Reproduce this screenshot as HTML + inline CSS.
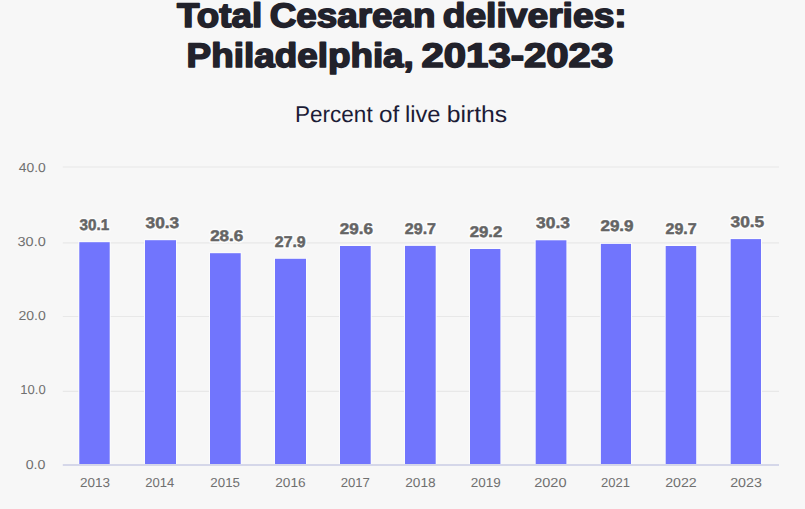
<!DOCTYPE html>
<html><head><meta charset="utf-8"><style>
html,body{margin:0;padding:0;background:#f7f7f7;}
body{width:805px;height:509px;overflow:hidden;position:relative;font-family:"Liberation Sans",sans-serif;}
svg{position:absolute;left:0;top:0;}
text{font-family:"Liberation Sans",sans-serif;text-rendering:geometricPrecision;}
.tt{font-size:34px;font-weight:bold;fill:#22222b;stroke:#22222b;stroke-width:1.6px;stroke-linejoin:round;}
.st{font-size:23px;text-rendering:geometricPrecision;fill:#1c1c36;}
.yl{font-size:13px;fill:#707070;}
.xl{font-size:13px;fill:#707070;}
.dh{font-size:15.5px;font-weight:bold;fill:#fff;stroke:#fcfcfc;stroke-width:3.5px;stroke-linejoin:round;}
.dl{font-size:15.5px;font-weight:bold;fill:#646464;stroke:#646464;stroke-width:0.5px;stroke-linejoin:round;}
</style></head><body>
<svg width="805" height="509" viewBox="0 0 805 509">
<text class="tt" x="177.10" y="26.9" textLength="85.02" lengthAdjust="spacingAndGlyphs">Total</text>
<text class="tt" x="269.72" y="26.9" textLength="165.77" lengthAdjust="spacingAndGlyphs">Cesarean</text>
<text class="tt" x="442.71" y="26.9" textLength="184.01" lengthAdjust="spacingAndGlyphs">deliveries:</text>
<text class="tt" x="186.63" y="67.0" textLength="227.23" lengthAdjust="spacingAndGlyphs">Philadelphia,</text>
<text class="tt" x="421.52" y="67.0" textLength="191.70" lengthAdjust="spacingAndGlyphs">2013-2023</text>
<text class="st" x="295.04" y="122" textLength="77.62" lengthAdjust="spacingAndGlyphs">Percent</text>
<text class="st" x="378.94" y="122" textLength="20.25" lengthAdjust="spacingAndGlyphs">of</text>
<text class="st" x="404.94" y="122" textLength="35.59" lengthAdjust="spacingAndGlyphs">live</text>
<text class="st" x="446.75" y="122" textLength="60.50" lengthAdjust="spacingAndGlyphs">births</text>
<line x1="62.8" x2="779" y1="167.0" y2="167.0" stroke="#e8e8e8" stroke-width="1.2"/>
<line x1="62.8" x2="779" y1="242.9" y2="242.9" stroke="#e8e8e8" stroke-width="1.2"/>
<line x1="62.8" x2="779" y1="316.5" y2="316.5" stroke="#e8e8e8" stroke-width="1.2"/>
<line x1="62.8" x2="779" y1="391.4" y2="391.4" stroke="#e8e8e8" stroke-width="1.2"/>
<rect x="78.30" y="241.20" width="32.40" height="222.80" fill="#fbfbfd"/>
<rect x="79.30" y="242.20" width="30.40" height="221.80" fill="#7175fd"/>
<rect x="144.00" y="239.20" width="33.00" height="224.80" fill="#fbfbfd"/>
<rect x="145.00" y="240.20" width="31.00" height="223.80" fill="#7175fd"/>
<rect x="209.00" y="252.20" width="32.70" height="211.80" fill="#fbfbfd"/>
<rect x="210.00" y="253.20" width="30.70" height="210.80" fill="#7175fd"/>
<rect x="274.00" y="257.80" width="33.00" height="206.20" fill="#fbfbfd"/>
<rect x="275.00" y="258.80" width="31.00" height="205.20" fill="#7175fd"/>
<rect x="339.00" y="245.00" width="32.70" height="219.00" fill="#fbfbfd"/>
<rect x="340.00" y="246.00" width="30.70" height="218.00" fill="#7175fd"/>
<rect x="404.00" y="244.90" width="32.70" height="219.10" fill="#fbfbfd"/>
<rect x="405.00" y="245.90" width="30.70" height="218.10" fill="#7175fd"/>
<rect x="469.00" y="248.00" width="32.40" height="216.00" fill="#fbfbfd"/>
<rect x="470.00" y="249.00" width="30.40" height="215.00" fill="#7175fd"/>
<rect x="534.70" y="239.30" width="32.70" height="224.70" fill="#fbfbfd"/>
<rect x="535.70" y="240.30" width="30.70" height="223.70" fill="#7175fd"/>
<rect x="599.90" y="242.90" width="32.10" height="221.10" fill="#fbfbfd"/>
<rect x="600.90" y="243.90" width="30.10" height="220.10" fill="#7175fd"/>
<rect x="664.70" y="245.00" width="32.50" height="219.00" fill="#fbfbfd"/>
<rect x="665.70" y="246.00" width="30.50" height="218.00" fill="#7175fd"/>
<rect x="729.70" y="238.10" width="32.30" height="225.90" fill="#fbfbfd"/>
<rect x="730.70" y="239.10" width="30.30" height="224.90" fill="#7175fd"/>
<rect x="62.8" y="464" width="716.2" height="2" fill="#d5d7e9"/>
<text class="yl" x="18.70" y="172.0" textLength="27.03" lengthAdjust="spacingAndGlyphs">40.0</text>
<text class="yl" x="17.59" y="245.9" textLength="28.16" lengthAdjust="spacingAndGlyphs">30.0</text>
<text class="yl" x="18.42" y="320.0" textLength="27.32" lengthAdjust="spacingAndGlyphs">20.0</text>
<text class="yl" x="20.30" y="393.9" textLength="25.42" lengthAdjust="spacingAndGlyphs">10.0</text>
<text class="yl" x="25.71" y="469.3" textLength="19.78" lengthAdjust="spacingAndGlyphs">0.0</text>
<text class="xl" x="79.96" y="487.1" textLength="29.99" lengthAdjust="spacingAndGlyphs">2013</text>
<text class="xl" x="145.30" y="487.1" textLength="29.03" lengthAdjust="spacingAndGlyphs">2014</text>
<text class="xl" x="210.38" y="487.1" textLength="29.56" lengthAdjust="spacingAndGlyphs">2015</text>
<text class="xl" x="275.25" y="487.1" textLength="30.42" lengthAdjust="spacingAndGlyphs">2016</text>
<text class="xl" x="340.69" y="487.1" textLength="29.24" lengthAdjust="spacingAndGlyphs">2017</text>
<text class="xl" x="405.25" y="487.1" textLength="30.42" lengthAdjust="spacingAndGlyphs">2018</text>
<text class="xl" x="470.66" y="487.1" textLength="29.99" lengthAdjust="spacingAndGlyphs">2019</text>
<text class="xl" x="534.18" y="487.1" textLength="32.33" lengthAdjust="spacingAndGlyphs">2020</text>
<text class="xl" x="601.00" y="487.1" textLength="28.92" lengthAdjust="spacingAndGlyphs">2021</text>
<text class="xl" x="665.21" y="487.1" textLength="31.49" lengthAdjust="spacingAndGlyphs">2022</text>
<text class="xl" x="730.21" y="487.1" textLength="31.60" lengthAdjust="spacingAndGlyphs">2023</text>
<text class="dh" x="79.57" y="230" textLength="29.65" lengthAdjust="spacingAndGlyphs">30.1</text>
<text class="dl" x="79.57" y="230" textLength="29.65" lengthAdjust="spacingAndGlyphs">30.1</text>
<text class="dh" x="145.54" y="227.9" textLength="33.61" lengthAdjust="spacingAndGlyphs">30.3</text>
<text class="dl" x="145.54" y="227.9" textLength="33.61" lengthAdjust="spacingAndGlyphs">30.3</text>
<text class="dh" x="210.15" y="240.9" textLength="33.09" lengthAdjust="spacingAndGlyphs">28.6</text>
<text class="dl" x="210.15" y="240.9" textLength="33.09" lengthAdjust="spacingAndGlyphs">28.6</text>
<text class="dh" x="274.83" y="247" textLength="30.80" lengthAdjust="spacingAndGlyphs">27.9</text>
<text class="dl" x="274.83" y="247" textLength="30.80" lengthAdjust="spacingAndGlyphs">27.9</text>
<text class="dh" x="339.75" y="234.1" textLength="33.09" lengthAdjust="spacingAndGlyphs">29.6</text>
<text class="dl" x="339.75" y="234.1" textLength="33.09" lengthAdjust="spacingAndGlyphs">29.6</text>
<text class="dh" x="404.82" y="234.1" textLength="31.21" lengthAdjust="spacingAndGlyphs">29.7</text>
<text class="dl" x="404.82" y="234.1" textLength="31.21" lengthAdjust="spacingAndGlyphs">29.7</text>
<text class="dh" x="469.77" y="236.9" textLength="32.56" lengthAdjust="spacingAndGlyphs">29.2</text>
<text class="dl" x="469.77" y="236.9" textLength="32.56" lengthAdjust="spacingAndGlyphs">29.2</text>
<text class="dh" x="536.13" y="228.1" textLength="33.81" lengthAdjust="spacingAndGlyphs">30.3</text>
<text class="dl" x="536.13" y="228.1" textLength="33.81" lengthAdjust="spacingAndGlyphs">30.3</text>
<text class="dh" x="600.45" y="231" textLength="33.09" lengthAdjust="spacingAndGlyphs">29.9</text>
<text class="dl" x="600.45" y="231" textLength="33.09" lengthAdjust="spacingAndGlyphs">29.9</text>
<text class="dh" x="665.52" y="233.6" textLength="31.11" lengthAdjust="spacingAndGlyphs">29.7</text>
<text class="dl" x="665.52" y="233.6" textLength="31.11" lengthAdjust="spacingAndGlyphs">29.7</text>
<text class="dh" x="730.54" y="226.8" textLength="33.61" lengthAdjust="spacingAndGlyphs">30.5</text>
<text class="dl" x="730.54" y="226.8" textLength="33.61" lengthAdjust="spacingAndGlyphs">30.5</text>
</svg>
</body></html>
